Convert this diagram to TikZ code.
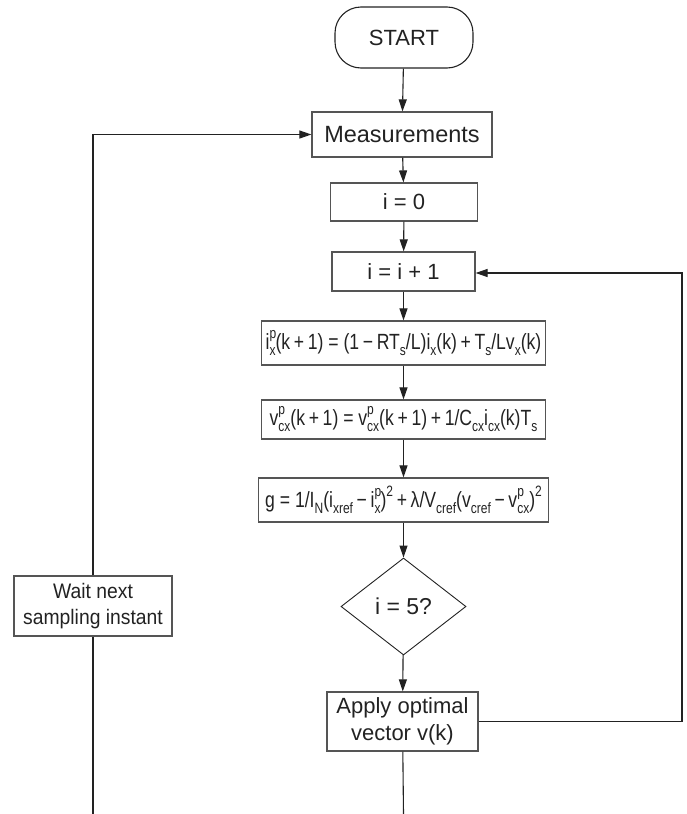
\documentclass[tikz,border=0pt]{standalone}
\usepackage{fontspec}
\setmainfont{Liberation Sans}
\newfontfamily\eqfont[FakeStretch=0.8]{Liberation Sans}
\newfontfamily\condfont[FakeStretch=0.92]{Liberation Sans}
\usetikzlibrary{arrows.meta,shapes.geometric}
\newcommand\mysub[1]{\raisebox{-0.27em}{\fontsize{15}{15}\selectfont #1}}
\newcommand\mysup[1]{\raisebox{0.5em}{\fontsize{15}{15}\selectfont #1}}
\newcommand\mysps[2]{\rlap{\mysup{#1}}\mysub{#2}}
\definecolor{ink}{HTML}{222222}
\definecolor{boxline}{HTML}{555555}
\begin{document}
\begin{tikzpicture}[x=1pt,y=-1pt,
  every node/.style={font=\fontsize{22}{27}\selectfont, text=ink, inner sep=0pt},
  procbox/.style={draw=boxline, line width=1.2pt, rectangle, align=center},
  eqbox/.style={procbox, font=\eqfont\fontsize{22}{27}\selectfont},
  startbox/.style={draw=ink, line width=1.1pt, rectangle, rounded corners=26pt},
  decbox/.style={draw=ink, line width=0.9pt, diamond},
  conn/.style={draw=ink, line width=1.1pt},
  arr/.style={conn, -{Triangle[length=12pt,width=8pt]}}]
\useasboundingbox (0,0) rectangle (687,814);
\node[startbox, minimum width=138pt, minimum height=61pt] (start) at (404,37.5) {START};
\node[procbox, minimum width=180pt, minimum height=45pt, font=\fontsize{23.5}{27}\selectfont] (meas) at (402,134.5) {Measurements};
\node[procbox, minimum width=147pt, minimum height=38pt] (init) at (404,202) {i = 0};
\node[procbox, minimum width=143pt, minimum height=39pt] (inc) at (403.5,271.5) {i = i + 1};
\node[eqbox, minimum width=284pt, minimum height=44pt] (eqa) at (403.5,343)
  {i\mysps{p}{x}(k\,+\,1) = (1\,−\,RT\mysub{s}/L)i\mysub{x}(k)\,+\,T\mysub{s}/Lv\mysub{x}(k)};
\node[eqbox, minimum width=284pt, minimum height=39pt] (eqb) at (403.5,419.5)
  {v\mysps{p}{cx}(k\,+\,1) = v\mysps{p}{cx}(k\,+\,1)\,+\,1/C\mysub{cx}i\mysub{cx}(k)T\mysub{s}};
\node[eqbox, minimum width=290pt, minimum height=44pt] (eqc) at (403.5,500)
  {g = 1/I\mysub{N}(i\mysub{xref}\,−\,i\mysps{p}{x})\mysup{2}\,+\,λ/V\mysub{cref}(v\mysub{cref}\,−\,v\mysps{p}{cx})\mysup{2}};
\node[decbox, minimum width=125pt, minimum height=97pt, font=\fontsize{23}{27}\selectfont] (test) at (403.5,606.5) {i = 5?};
\node[procbox, minimum width=151pt, minimum height=59pt] (apply) at (402.5,721.5) {Apply optimal\\vector v(k)};
\node[procbox, minimum width=158pt, minimum height=60pt, font=\condfont\fontsize{21}{26}\selectfont] (wait) at (93,606) {Wait next\\sampling instant};
\coordinate (rc) at (682,273);
\coordinate (lb) at (93,814);
\coordinate (mb) at (403.5,814);
\draw[arr] (start) -- (meas);
\draw[arr] (meas) -- (init);
\draw[arr] (init) -- (inc);
\draw[arr] (inc) -- (eqa);
\draw[arr] (eqa) -- (eqb);
\draw[arr] (eqb) -- (eqc);
\draw[arr] (eqc) -- (test);
\draw[arr] (test) -- (apply);
\draw[conn] (apply) -- (mb);
\draw[arr] (apply.east) -| (rc) -- (inc.east |- rc);
\draw[conn] (lb) -- (wait);
\draw[arr] (wait) |- (meas.west);
\end{tikzpicture}
\end{document}
